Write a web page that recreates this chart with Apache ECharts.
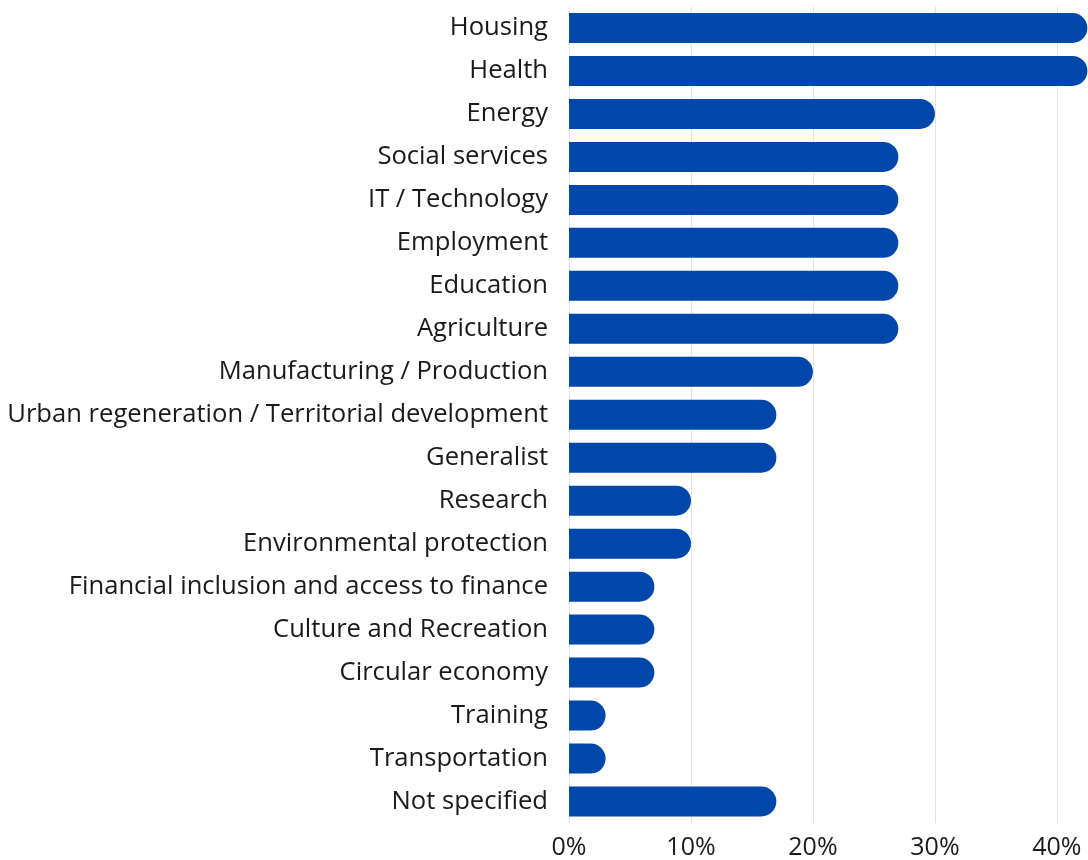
<!DOCTYPE html>
<html>
<head>
<meta charset="utf-8">
<script src="https://cdn.jsdelivr.net/npm/echarts@6/dist/echarts.min.js"></script>
<style>
  html, body { margin: 0; padding: 0; background: #ffffff; }
  #chart { width: 1088px; height: 860px; }
</style>
</head>
<body>
<div id="chart"></div>
<script>
// Sectors, listed top to bottom
const categories = [
  'Housing', 'Health', 'Energy', 'Social services', 'IT / Technology',
  'Employment', 'Education', 'Agriculture', 'Manufacturing / Production',
  'Urban regeneration / Territorial development', 'Generalist', 'Research',
  'Environmental protection', 'Financial inclusion and access to finance',
  'Culture and Recreation', 'Circular economy', 'Training',
  'Transportation', 'Not specified'
];
// Share of respondents (%)
const shares = [42.5, 42.5, 30, 27, 27, 27, 27, 27, 20, 17, 17, 10, 10, 7, 7, 7, 3, 3, 17];
// Percent ticks shown on the value axis
const tickValues = [0, 10, 20, 30, 40];

const chart = echarts.init(document.getElementById('chart'));
chart.setOption({
  animation: false,
  textStyle: { fontFamily: 'Open Sans' },
  grid: { left: 569, right: 0, top: 6.5, bottom: 35.5 },
  xAxis: {
    type: 'value',
    min: 0,
    max: 42.55,
    interval: 10,
    axisLine: { show: false },
    axisTick: { show: false },
    splitLine: { show: true, lineStyle: { color: '#e3e3e3', width: 1 } },
    axisLabel: {
      fontFamily: 'Open Sans',
      fontSize: 25,
      color: '#1a1a1a',
      margin: 12,
      showMaxLabel: false,
      formatter: v => tickValues.includes(v) ? v + '%' : ''
    }
  },
  yAxis: {
    type: 'category',
    data: categories,
    inverse: true,
    axisLine: { show: false },
    axisTick: { show: false },
    axisLabel: {
      fontFamily: 'Open Sans',
      fontSize: 25.6,
      color: '#1a1a1a',
      margin: 21
    }
  },
  series: [{
    type: 'bar',
    data: shares,
    barWidth: 30,
    itemStyle: { color: '#0047ab', borderRadius: [0, 15, 15, 0] }
  }]
});
</script>
</body>
</html>
